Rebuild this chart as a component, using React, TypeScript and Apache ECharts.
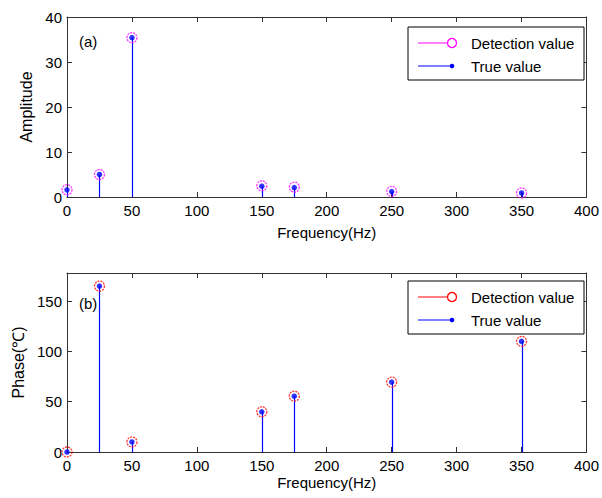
import React, { useEffect, useRef } from "react";
import * as echarts from "echarts";

const freqs = [0, 25, 50, 150, 175, 250, 350];
const ampDetected = [1.6, 5.0, 35.4, 2.5, 2.2, 1.25, 0.9];
const ampTrue = [1.6, 5.0, 35.4, 2.4, 2.1, 1.2, 0.9];
const phaseDetected = [0, 165, 10, 40, 55.5, 69.5, 110];
const phaseTrue = [0, 165, 10, 40, 55.5, 69.5, 110];
const xTicks = { min: 0, max: 400, interval: 50 };
const ampAxis = { min: 0, max: 40, interval: 10 };
const phaseAxis = { min: 0, max: 178, interval: 50 };

const FONT = "'Liberation Sans', Arial, Helvetica, sans-serif";
const AXIS_COLOR = "#333";

const pairs = (xs: number[], ys: number[]) => xs.map((x, i) => [x, ys[i]]);

function xAxisCfg(gridIndex: number, bottom: boolean, nameGap: number) {
  return {
    type: "value",
    gridIndex,
    position: bottom ? "bottom" : "top",
    min: xTicks.min,
    max: xTicks.max,
    interval: xTicks.interval,
    name: bottom ? "Frequency(Hz)" : "",
    nameLocation: "middle",
    nameGap,
    nameTextStyle: { color: "#000", fontSize: 15, fontFamily: FONT },
    axisLine: { show: true, onZero: false, lineStyle: { color: AXIS_COLOR, width: 1 } },
    axisTick: { show: true, inside: true, length: 5, lineStyle: { color: AXIS_COLOR } },
    axisLabel: bottom
      ? { show: true, color: "#000", fontSize: 15, fontFamily: FONT, margin: 6 }
      : { show: false },
    splitLine: { show: false },
  };
}

function yAxisCfg(
  gridIndex: number,
  left: boolean,
  range: { min: number; max: number; interval: number },
  name: string,
  nameGap: number
) {
  return {
    type: "value",
    gridIndex,
    position: left ? "left" : "right",
    min: range.min,
    max: range.max,
    interval: range.interval,
    name: left ? name : "",
    nameLocation: "middle",
    nameGap,
    nameTextStyle: { color: "#000", fontSize: 16, fontFamily: FONT },
    axisLine: { show: true, onZero: false, lineStyle: { color: AXIS_COLOR, width: 1 } },
    axisTick: { show: true, inside: true, length: 5, lineStyle: { color: AXIS_COLOR } },
    axisLabel: left
      ? { show: true, color: "#000", fontSize: 15, fontFamily: FONT, margin: 5, showMaxLabel: range.max % range.interval === 0 }
      : { show: false },
    splitLine: { show: false },
  };
}

function stemSeries(xAxisIndex: number, yAxisIndex: number, data: number[][], color: string) {
  return {
    type: "custom",
    xAxisIndex,
    yAxisIndex,
    data,
    encode: { x: 0, y: 1 },
    z: 2,
    renderItem: (_params: any, api: any) => {
      const p0 = api.coord([api.value(0), 0]);
      const p1 = api.coord([api.value(0), api.value(1)]);
      const x = Math.round(p0[0]) + 0.5;
      return {
        type: "line",
        shape: { x1: x, y1: p0[1], x2: x, y2: p1[1] },
        style: { stroke: color, lineWidth: 1.2 },
      };
    },
  };
}

function legendGraphic(top: number, detColor: string) {
  const left = 408;
  const r1 = top + 16;
  const r2 = top + 39;
  return [
    {
      type: "rect",
      z: 100,
      shape: { x: left, y: top, width: 176, height: 53 },
      style: { fill: "#fff", stroke: "#000", lineWidth: 1 },
    },
    {
      type: "line",
      z: 101,
      shape: { x1: 418, y1: r1, x2: 448, y2: r1 },
      style: { stroke: detColor, lineWidth: 1 },
    },
    {
      type: "circle",
      z: 101,
      shape: { cx: 452, cy: r1, r: 4.5 },
      style: { fill: "none", stroke: detColor, lineWidth: 1.3 },
    },
    {
      type: "text",
      z: 101,
      x: 471,
      y: r1,
      style: { text: "Detection value", fill: "#000", fontSize: 15, fontFamily: FONT, verticalAlign: "middle" },
    },
    {
      type: "line",
      z: 101,
      shape: { x1: 418, y1: r2, x2: 452, y2: r2 },
      style: { stroke: "#0000ff", lineWidth: 1 },
    },
    {
      type: "circle",
      z: 101,
      shape: { cx: 452, cy: r2, r: 2.3 },
      style: { fill: "#0000ff", stroke: "none" },
    },
    {
      type: "text",
      z: 101,
      x: 471,
      y: r2,
      style: { text: "True value", fill: "#000", fontSize: 15, fontFamily: FONT, verticalAlign: "middle" },
    },
  ];
}

export default function App() {
  const ref = useRef<HTMLDivElement>(null);

  useEffect(() => {
    if (!ref.current) return;
    const chart = echarts.init(ref.current, undefined, { renderer: "svg" });
    const option: any = {
      animation: false,
      backgroundColor: "#fff",
      grid: [
        { left: 67, top: 17, width: 524, height: 180 },
        { left: 67, top: 273, width: 524, height: 179 },
      ],
      xAxis: [
        xAxisCfg(0, true, 28),
        xAxisCfg(0, false, 0),
        xAxisCfg(1, true, 23),
        xAxisCfg(1, false, 0),
      ],
      yAxis: [
        yAxisCfg(0, true, ampAxis, "Amplitude", 32),
        yAxisCfg(0, false, ampAxis, "", 0),
        yAxisCfg(1, true, phaseAxis, "Phase(℃)", 39),
        yAxisCfg(1, false, phaseAxis, "", 0),
      ],
      series: [
        stemSeries(0, 0, pairs(freqs, ampTrue), "#0000ff"),
        {
          name: "Detection value",
          type: "scatter",
          xAxisIndex: 0,
          yAxisIndex: 0,
          data: pairs(freqs, ampDetected),
          symbol: "circle",
          symbolSize: 10,
          z: 3,
          itemStyle: { color: "rgba(0,0,0,0)", borderColor: "#ff00ff", borderWidth: 1.3, borderType: [2, 1] },
        },
        {
          name: "True value",
          type: "scatter",
          xAxisIndex: 0,
          yAxisIndex: 0,
          data: pairs(freqs, ampTrue),
          symbol: "circle",
          symbolSize: 5.5,
          z: 4,
          itemStyle: { color: "#0000ff" },
        },
        stemSeries(2, 2, pairs(freqs, phaseTrue), "#0000ff"),
        {
          name: "Detection value ",
          type: "scatter",
          xAxisIndex: 2,
          yAxisIndex: 2,
          data: pairs(freqs, phaseDetected),
          symbol: "circle",
          symbolSize: 10,
          z: 3,
          itemStyle: { color: "rgba(0,0,0,0)", borderColor: "#ff0000", borderWidth: 1.3, borderType: [2, 1] },
        },
        {
          name: "True value ",
          type: "scatter",
          xAxisIndex: 2,
          yAxisIndex: 2,
          data: pairs(freqs, phaseTrue),
          symbol: "circle",
          symbolSize: 5.5,
          z: 4,
          itemStyle: { color: "#0000ff" },
        },
      ],
      graphic: [
        ...legendGraphic(27, "#ff00ff"),
        ...legendGraphic(281, "#ff0000"),
        {
          type: "text",
          z: 101,
          x: 79,
          y: 41,
          style: { text: "(a)", fill: "#000", fontSize: 15, fontFamily: FONT, verticalAlign: "middle" },
        },
        {
          type: "text",
          z: 101,
          x: 79,
          y: 303,
          style: { text: "(b)", fill: "#000", fontSize: 15, fontFamily: FONT, verticalAlign: "middle" },
        },
      ],
    };
    chart.setOption(option);
    return () => chart.dispose();
  }, []);

  return (
    <div
      ref={ref}
      style={{ position: "fixed", left: 0, top: 0, width: 602, height: 498, background: "#fff" }}
    />
  );
}
